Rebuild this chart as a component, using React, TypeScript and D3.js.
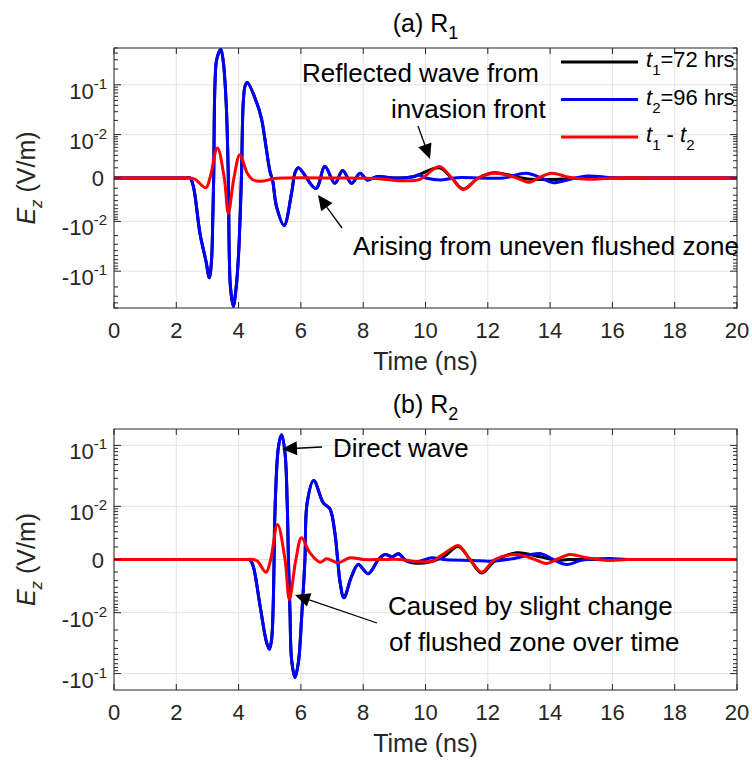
import React from "react";
import * as d3 from "d3";

type Pt = [number, number];

// (a) R1 : time (ns), Ez (V/m)
const r1T1: Pt[] = [
  [0, 0], [1, 0], [2, 0], [2.3, 0], [2.44, 0], [2.55, -0.00083], [2.76, -0.0181], [2.95, -0.063], [3.06, -0.133],
  [3.13, -0.063], [3.17, -0.0095], [3.2, 0], [3.24, 0.0957], [3.3, 0.31], [3.43, 0.469], [3.51, 0.27],
  [3.6, 0.046], [3.67, 0], [3.7, -0.046], [3.74, -0.207], [3.83, -0.462], [3.92, -0.207], [4.0, -0.046],
  [4.09, 0], [4.15, 0.046], [4.21, 0.0957], [4.28, 0.111], [4.58, 0.0454], [4.74, 0.0209], [4.88, 0.00518],
  [5.01, 0.00054], [5.09, -0.000165], [5.22, -0.00451], [5.46, -0.01225], [5.7, -0.00167], [5.81, 0.00044],
  [5.92, 0.00102], [6.48, -0.00102], [6.77, 0.00115], [7.09, -0.00047], [7.34, 0.00068], [7.63, -0.00047],
  [7.9, 0.00041], [8.13, -0.000165], [8.43, 0.000105], [9.0, 0], [9.6, 0.0001], [10.44, 0.001], [10.84, 0],
  [11.21, -0.0011], [11.7, 0], [12.18, 0.00045], [12.6, 0.0003], [13.0, 0.00005], [13.35, -0.0001],
  [13.8, -0.00012], [14.32, -0.0001], [15, 0], [16, 0], [18, 0], [20, 0],
];
const r1T2: Pt[] = [
  [0, 0], [1, 0], [2, 0], [2.3, 0], [2.44, 0], [2.55, -0.00083], [2.76, -0.0181], [2.95, -0.063], [3.06, -0.133],
  [3.13, -0.063], [3.17, -0.0095], [3.2, 0], [3.24, 0.0957], [3.3, 0.31], [3.43, 0.469], [3.51, 0.27],
  [3.6, 0.046], [3.67, 0], [3.7, -0.046], [3.74, -0.207], [3.83, -0.462], [3.92, -0.207], [4.0, -0.046],
  [4.09, 0], [4.15, 0.046], [4.21, 0.0957], [4.28, 0.111], [4.58, 0.0454], [4.74, 0.0209], [4.88, 0.00518],
  [5.01, 0.00054], [5.09, -0.000165], [5.22, -0.00451], [5.46, -0.01225], [5.7, -0.00167], [5.81, 0.00044],
  [5.92, 0.00102], [6.48, -0.00102], [6.77, 0.00115], [7.09, -0.00047], [7.34, 0.00068], [7.63, -0.00047],
  [7.9, 0.00041], [8.13, -0.000165], [8.43, 0.000105], [9.0, 0], [9.61, 0.000105], [9.77, 0.00025],
  [10.04, -0.00002], [10.47, -0.000165], [11.0, 0.00002], [12.5, 0], [13.25, 0.00041], [14.1, -0.00041],
  [14.32, -0.00032], [15.17, 0.000165], [16, 0.00002], [17, 0], [18.5, 0], [20, 0],
];
const r1Diff: Pt[] = [
  [0, 0], [1, 0], [2, 0], [2.4, 0], [2.6, -0.0001], [2.95, -0.00095], [3.08, 0], [3.32, 0.0048], [3.54, 0], [3.67, -0.0064],
  [3.85, 0], [4.04, 0.00312], [4.28, 0.00041], [4.47, -0.000165], [4.8, -0.00025], [5.1, -0.000056],
  [5.5, 0], [7, 0], [8.5, -0.00005], [9.2, -0.000226], [9.82, -0.000105], [10.44, 0.00115], [10.84, 0],
  [11.21, -0.00115], [11.7, 0], [12.18, 0.00041], [12.6, 0.00025], [12.93, 0], [13.35, -0.00037],
  [13.62, 0], [14.05, 0.00041], [14.53, 0.000105], [14.8, 0], [15.28, -0.000105], [16, 0], [18, 0], [20, 0],
];

// (b) R2
const r2T1: Pt[] = [
  [0, 0], [1, 0], [2, 0], [3, 0], [3.8, 0], [4.1, 0], [4.3, 0], [4.37, -0.00003], [4.47, -0.00048], [4.69, -0.00754],
  [4.9, -0.0322], [4.99, -0.0412], [5.06, -0.0284],
  [5.11, -0.00754], [5.14, 0], [5.16, 0.00558], [5.28, 0.095], [5.38, 0.146], [5.49, 0.0757], [5.56, 0.0115],
  [5.6, 0], [5.65, -0.00999], [5.7, -0.0594], [5.81, -0.1149], [5.92, -0.0662], [6.02, -0.0131], [6.13, 0],
  [6.2, 0.0115], [6.41, 0.0277], [6.72, 0.0115], [6.93, 0.009], [7.09, 0.00282], [7.18, 0], [7.26, -0.00229],
  [7.38, -0.00515], [7.63, -0.00144], [7.84, -0.00035], [8.16, -0.00118], [8.49, 0], [8.7, 0.00035],
  [8.93, 0.00018], [9.13, 0.0004], [9.4, -0.00011], [9.82, -0.00026], [10.25, -0.0001], [10.6, 0.0002],
  [11.05, 0.00105], [11.43, 0], [11.8, -0.0011], [12.23, -0.0001], [12.93, 0.00048], [13.68, 0.00018],
  [14.2, -0.000045], [14.6, 0], [16, 0], [18, 0], [20, 0],
];
const r2T2: Pt[] = [
  [0, 0], [1, 0], [2, 0], [3, 0], [3.8, 0], [4.1, 0], [4.3, 0], [4.37, -0.00003], [4.47, -0.00048], [4.69, -0.00754],
  [4.9, -0.0322], [4.99, -0.0412], [5.06, -0.0284],
  [5.11, -0.00754], [5.14, 0], [5.16, 0.00558], [5.28, 0.095], [5.38, 0.146], [5.49, 0.0757], [5.56, 0.0115],
  [5.6, 0], [5.65, -0.00999], [5.7, -0.0594], [5.81, -0.1149], [5.92, -0.0662], [6.02, -0.0131], [6.13, 0],
  [6.2, 0.0115], [6.41, 0.0277], [6.72, 0.0115], [6.93, 0.009], [7.09, 0.00282], [7.18, 0], [7.26, -0.00229],
  [7.38, -0.00515], [7.63, -0.00144], [7.84, -0.00035], [8.16, -0.00118], [8.49, 0], [8.7, 0.00035],
  [8.93, 0.00018], [9.13, 0.0004], [9.4, -0.00011], [9.82, -0.00011], [10.2, 0.00011], [10.57, 0],
  [11.53, -0.000065], [12.07, -0.00011], [12.8, 0.00005], [13.68, 0.00042], [14.1, 0], [14.53, -0.00035],
  [15.0, -0.00005], [15.9, 0.000065], [16.5, 0], [17.5, 0], [18.5, 0], [20, 0],
];
const r2Diff: Pt[] = [
  [0, 0], [1, 0], [2, 0], [3, 0], [3.8, 0], [4.2, 0], [4.45, 0], [4.6, -0.0001], [4.88, -0.00102], [5.03, 0],
  [5.25, 0.00438], [5.49, 0], [5.63, -0.00558],
  [5.84, 0], [6.02, 0.00207], [6.29, 0.00048], [6.61, -0.00018], [6.83, 0.000045], [7.2, -0.00022],
  [7.58, 0.00011], [8.0, 0], [8.6, 0], [9.2, 0], [9.82, -0.00015], [10.25, -0.00011], [10.47, 0.00022], [10.79, 0.00076],
  [11.05, 0.00115], [11.43, 0], [11.8, -0.00102], [12.23, 0], [12.93, 0.00035], [13.51, 0], [13.89, -0.00027],
  [14.21, 0], [14.64, 0.00035], [15.17, 0.00011], [15.9, -0.000065], [16.5, 0], [17.5, 0], [18.5, 0], [20, 0],
];

const xTicks = [0, 2, 4, 6, 8, 10, 12, 14, 16, 18, 20];
const yMajor = [-0.1, -0.01, 0, 0.01, 0.1];
const yLabels = [["-10", "-1"], ["-10", "-2"], ["0", ""], ["10", "-2"], ["10", "-1"]];
const decades = [0.001, 0.01, 0.1];
const legendItems = [
  { color: "#000000", sub: "1", rest: "=72 hrs" },
  { color: "#0000ff", sub: "2", rest: "=96 hrs" },
  { color: "#ff0000", sub: "1", rest: " - " },
];

const C = 0.0018;
const L = 114, R = 737;
const FONT = "'Liberation Sans', Arial, Helvetica, sans-serif";
const AX = "#262626";
const GRID = "#e3e3e3";

function Arrow({ x1, y1, x2, y2 }: { x1: number; y1: number; x2: number; y2: number }) {
  const a = Math.atan2(y2 - y1, x2 - x1);
  const len = 15, hw = 7;
  const bx = x2 - len * Math.cos(a), by = y2 - len * Math.sin(a);
  const px = -Math.sin(a) * hw, py = Math.cos(a) * hw;
  return (
    <g>
      <line x1={x1} y1={y1} x2={bx} y2={by} stroke="#000" strokeWidth={1.3} />
      <polygon points={`${x2},${y2} ${bx + px},${by + py} ${bx - px},${by - py}`} fill="#000" />
    </g>
  );
}

function Panel(props: {
  id: string; top: number; bottom: number; ymax: number; tag: string; sub: string;
  black: Pt[]; blue: Pt[]; diff: Pt[]; children?: React.ReactNode;
}) {
  const { id, top, bottom, ymax, tag, sub, black, blue, diff } = props;
  const x = d3.scaleLinear().domain([0, 20]).range([L, R]);
  const y = d3.scaleSymlog().constant(C).domain([-ymax, ymax]).range([bottom, top]);
  const line = d3.line<Pt>().x(d => x(d[0])).y(d => y(d[1])).curve(d3.curveCatmullRom.alpha(0.5));

  const minor: number[] = [];
  decades.forEach(dec => {
    for (let m = 1; m <= 9; m++) {
      const v = dec * m;
      if (m === 1 && dec > 0.001) continue;
      if (v <= ymax) { minor.push(v); minor.push(-v); }
    }
  });

  const cx = (L + R) / 2;
  const cy = (top + bottom) / 2;
  return (
    <g fontFamily={FONT}>
      <defs>
        <clipPath id={id}><rect x={L} y={top} width={R - L} height={bottom - top} /></clipPath>
      </defs>
      {xTicks.map(t => (
        <line key={"gx" + t} x1={x(t)} x2={x(t)} y1={top} y2={bottom} stroke={GRID} strokeWidth={1} />
      ))}
      {yMajor.map(v => (
        <line key={"gy" + v} x1={L} x2={R} y1={y(v)} y2={y(v)} stroke={GRID} strokeWidth={1} />
      ))}
      <g clipPath={`url(#${id})`} fill="none" strokeWidth={3} strokeLinejoin="round">
        <path d={line(black) || ""} stroke="#000000" />
        <path d={line(blue) || ""} stroke="#0000ff" />
        <path d={line(diff) || ""} stroke="#ff0000" />
      </g>
      <rect x={L} y={top} width={R - L} height={bottom - top} fill="none" stroke={AX} strokeWidth={1} />
      {xTicks.map(t => (
        <g key={"xt" + t}>
          <line x1={x(t)} x2={x(t)} y1={bottom} y2={bottom - 6} stroke={AX} />
          <line x1={x(t)} x2={x(t)} y1={top} y2={top + 6} stroke={AX} />
          <text x={x(t)} y={bottom + 30} textAnchor="middle" fontSize={22} fill={AX}>{t}</text>
        </g>
      ))}
      {yMajor.map((v, i) => (
        <g key={"yt" + v}>
          <line x1={L} x2={L + 7} y1={y(v)} y2={y(v)} stroke={AX} />
          <line x1={R} x2={R - 7} y1={y(v)} y2={y(v)} stroke={AX} />
          {yLabels[i][1] ? (
            <text x={107} y={y(v) + 14} textAnchor="end" fontSize={22} fill={AX}>
              {yLabels[i][0]}
              <tspan fontSize={15} dy={-10}>{yLabels[i][1]}</tspan>
            </text>
          ) : (
            <text x={104} y={y(v) + 8} textAnchor="end" fontSize={22} fill={AX}>{yLabels[i][0]}</text>
          )}
        </g>
      ))}
      {minor.map(v => (
        <g key={"ym" + v}>
          <line x1={L} x2={L + 4} y1={y(v)} y2={y(v)} stroke={AX} />
          <line x1={R} x2={R - 4} y1={y(v)} y2={y(v)} stroke={AX} />
        </g>
      ))}
      <text x={cx} y={top - 16} textAnchor="middle" fontSize={25} fill="#000">
        {tag} R<tspan fontSize={18} dy={7}>{sub}</tspan>
      </text>
      <text x={cx} y={bottom + 62} textAnchor="middle" fontSize={25} fill={AX}>Time (ns)</text>
      <text transform={`translate(35,${cy}) rotate(-90)`} textAnchor="middle" fontSize={25} fill={AX}>
        <tspan fontStyle="italic">E</tspan>
        <tspan fontStyle="italic" fontSize={17} dy={7}>z</tspan>
        <tspan dy={-7}> (V/m)</tspan>
      </text>
      {props.children}
    </g>
  );
}

export default function App() {
  return (
    <svg width={752} height={765} style={{ position: "absolute", left: 0, top: 0, background: "#fff" }}>
      <rect width={752} height={765} fill="#fff" />
      <Panel id="clipA" top={48} bottom={308} ymax={0.5} tag="(a)" sub="1" black={r1T1} blue={r1T2} diff={r1Diff}>
        <g fontFamily={FONT} fontSize={26} fill="#000">
          <text x={302} y={82}>Reflected wave from</text>
          <text x={391} y={118}>invasion front</text>
          <text x={353} y={255}>Arising from uneven flushed zone</text>
        </g>
        <Arrow x1={418} y1={126} x2={430} y2={159} />
        <Arrow x1={342} y1={228} x2={318} y2={195} />
        <g fontFamily={FONT} fontSize={22} fill="#000">
          {legendItems.map((it, i) => (
            <g key={i}>
              <line x1={561} x2={638} y1={62 + i * 37.5} y2={62 + i * 37.5} stroke={it.color} strokeWidth={3} />
              <text x={646} y={67 + i * 37.5}>
                <tspan fontStyle="italic">t</tspan>
                <tspan fontSize={15} dy={8}>{it.sub}</tspan>
                <tspan dy={-8}>{it.rest}</tspan>
                {i === 2 ? (
                  <>
                    <tspan fontStyle="italic">t</tspan>
                    <tspan fontSize={15} dy={8}>2</tspan>
                  </>
                ) : null}
              </text>
            </g>
          ))}
        </g>
      </Panel>
      <Panel id="clipB" top={429} bottom={690} ymax={0.18} tag="(b)" sub="2" black={r2T1} blue={r2T2} diff={r2Diff}>
        <g fontFamily={FONT} fontSize={26} fill="#000">
          <text x={333} y={457}>Direct wave</text>
          <text x={388} y={615}>Caused by slight change</text>
          <text x={389} y={651}>of flushed zone over time</text>
        </g>
        <Arrow x1={322} y1={447} x2={282} y2={449} />
        <Arrow x1={377} y1={623} x2={295} y2={595} />
      </Panel>
    </svg>
  );
}
